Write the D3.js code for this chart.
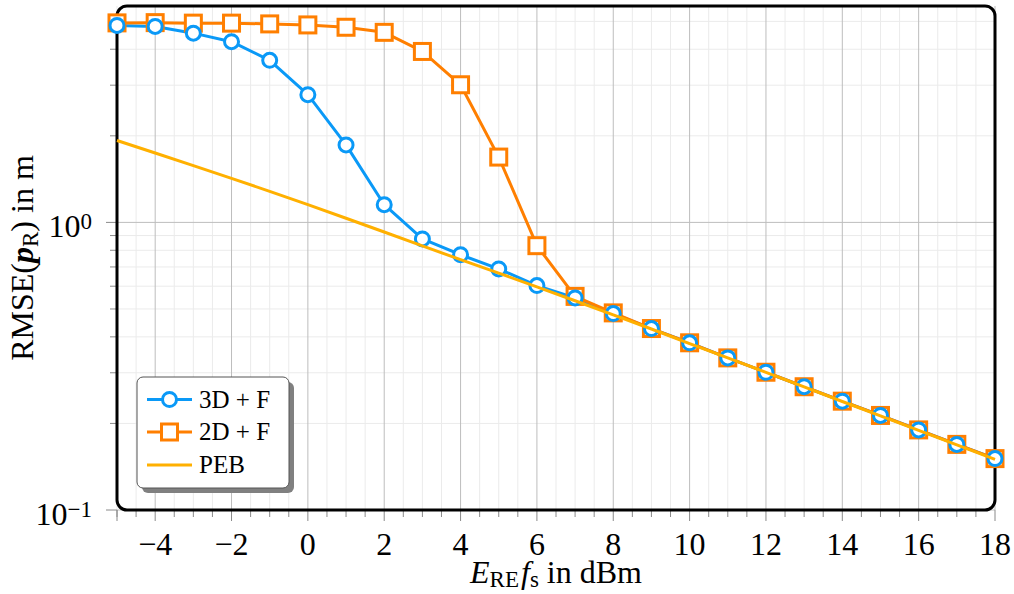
<!DOCTYPE html>
<html><head><meta charset="utf-8">
<script src="https://cdn.jsdelivr.net/npm/d3@7"></script>
<style>
  body { margin: 0; background: #fff; }
  svg text { font-family: "Liberation Serif", "Times New Roman", Times, serif; fill: #000; }
</style>
</head><body>
<svg id="chart" width="1014" height="594" font-family="Liberation Serif"></svg>
<script>
// Transmit energy sweep (dBm)
const energyDbm = [-5,-4,-3,-2,-1,0,1,2,3,4,5,6,7,8,9,10,11,12,13,14,15,16,17,18];
// RMSE of the receiver position (m)
const rmse3DF = [4.84,4.80,4.55,4.25,3.66,2.78,1.86,1.152,0.876,0.772,0.689,0.603,0.546,0.482,0.4275,0.3814,0.338,0.3013,0.2683,0.239,0.2132,0.1899,0.1691,0.1509];
const rmse2DF = [4.94,4.95,4.93,4.93,4.90,4.86,4.77,4.58,3.93,3.01,1.687,0.830,0.553,0.4846,0.4275,0.3814,0.338,0.3013,0.2683,0.239,0.2132,0.1899,0.1691,0.1509];
// Position error bound (m)
const peb = [1.927,1.743,1.576,1.423,1.282,1.153,1.034,0.926,0.829,0.742,0.666,0.597,0.534,0.477,0.426,0.379,0.338,0.301,0.268,0.2384,0.2124,0.1891,0.1684,0.150];

const xMajorTicks = [-4,-2,0,2,4,6,8,10,12,14,16,18];
const yMajorTicks = [0.1, 1];
const yTickExponents = ["\u22121", "0"];
const legendLabels = ["3D + F", "2D + F", "PEB"];

const colors = { d3f: "#0a99f7", d2f: "#ff7f00", peb: "#ffb000" };

const svg = d3.select("#chart");
const plot = { left: 117, right: 995, top: 6, bottom: 510 };

const x = d3.scaleLinear().domain([-5, 18]).range([plot.left, plot.right]);
const y = d3.scaleLog().domain([0.1, 5.655]).range([plot.bottom, plot.top]);

// minor / major positions
const xMinor = d3.range(-5, 18.001, 0.5).filter(v => !xMajorTicks.includes(v));
const yMinor = [0.2,0.3,0.4,0.5,0.6,0.7,0.8,0.9,2,3,4,5];

// grid
const grid = svg.append("g");
grid.selectAll(".gxm").data(xMinor).join("line")
  .attr("x1", d => x(d)).attr("x2", d => x(d))
  .attr("y1", plot.top).attr("y2", plot.bottom)
  .attr("stroke", "#ebebeb").attr("stroke-width", 1);
grid.selectAll(".gym").data(yMinor).join("line")
  .attr("x1", plot.left).attr("x2", plot.right)
  .attr("y1", d => y(d)).attr("y2", d => y(d))
  .attr("stroke", "#ebebeb").attr("stroke-width", 1);
grid.selectAll(".gxM").data(xMajorTicks).join("line")
  .attr("x1", d => x(d)).attr("x2", d => x(d))
  .attr("y1", plot.top).attr("y2", plot.bottom)
  .attr("stroke", "#bdbdbd").attr("stroke-width", 1);
grid.selectAll(".gyM").data(yMajorTicks).join("line")
  .attr("x1", plot.left).attr("x2", plot.right)
  .attr("y1", d => y(d)).attr("y2", d => y(d))
  .attr("stroke", "#bdbdbd").attr("stroke-width", 1);

// outward ticks
const ticks = svg.append("g").attr("stroke", "#8a8a8a").attr("stroke-width", 1);
ticks.selectAll(".txm").data(xMinor).join("line")
  .attr("x1", d => x(d)).attr("x2", d => x(d))
  .attr("y1", plot.bottom).attr("y2", plot.bottom + 7);
ticks.selectAll(".txM").data(xMajorTicks.concat([-5])).join("line")
  .attr("x1", d => x(d)).attr("x2", d => x(d))
  .attr("y1", plot.bottom).attr("y2", plot.bottom + 11);
ticks.selectAll(".tym").data(yMinor).join("line")
  .attr("x1", plot.left - 7).attr("x2", plot.left)
  .attr("y1", d => y(d)).attr("y2", d => y(d));
ticks.selectAll(".tyM").data(yMajorTicks).join("line")
  .attr("x1", plot.left - 11).attr("x2", plot.left)
  .attr("y1", d => y(d)).attr("y2", d => y(d));

// frame
svg.append("rect")
  .attr("x", plot.left).attr("y", plot.top)
  .attr("width", plot.right - plot.left).attr("height", plot.bottom - plot.top)
  .attr("rx", 10).attr("ry", 10)
  .attr("fill", "none").attr("stroke", "#000").attr("stroke-width", 3);

// x tick labels
svg.append("g").selectAll("text").data(xMajorTicks).join("text")
  .attr("x", d => x(d)).attr("y", 555)
  .attr("text-anchor", "middle").attr("font-size", 32)
  .text(d => d < 0 ? "\u2212" + Math.abs(d) : String(d));

// y tick labels (powers of ten)
const yl = svg.append("g").selectAll("text").data(yMajorTicks).join("text")
  .attr("x", 92).attr("y", d => y(d) + 15)
  .attr("text-anchor", "end").attr("font-size", 32);
yl.append("tspan").text("10");
yl.append("tspan").attr("font-size", 23).attr("dy", -8).text((d, i) => yTickExponents[i]);

// axis titles
const xt = svg.append("text").attr("x", 556).attr("y", 583)
  .attr("text-anchor", "middle").attr("font-size", 32);
xt.append("tspan").attr("font-style", "italic").text("E");
xt.append("tspan").attr("font-size", 23).attr("dy", 4).text("RE");
xt.append("tspan").attr("font-style", "italic").attr("dy", -4).attr("dx", 2).text("f");
xt.append("tspan").attr("font-size", 23).attr("dy", 4).text("s");
xt.append("tspan").attr("dy", -4).text(" in dBm");

const ytl = svg.append("text").attr("transform", "translate(33,258) rotate(-90)")
  .attr("text-anchor", "middle").attr("font-size", 32);
ytl.append("tspan").text("RMSE(");
ytl.append("tspan").attr("font-style", "italic").attr("font-weight", "bold").text("p");
ytl.append("tspan").attr("font-size", 23).attr("dy", 5).text("R");
ytl.append("tspan").attr("dy", -5).text(") in m");

// series
const line = d3.line().x(d => x(d[0])).y(d => y(d[1]));
const pts = vals => energyDbm.map((e, i) => [e, vals[i]]);

const data = svg.append("g");
data.append("path").datum(pts(rmse3DF)).attr("d", line)
  .attr("fill", "none").attr("stroke", colors.d3f).attr("stroke-width", 3).attr("stroke-linejoin", "round");
data.append("path").datum(pts(rmse2DF)).attr("d", line)
  .attr("fill", "none").attr("stroke", colors.d2f).attr("stroke-width", 3).attr("stroke-linejoin", "round");

data.selectAll(".sq").data(pts(rmse2DF)).join("rect")
  .attr("x", d => x(d[0]) - 8).attr("y", d => y(d[1]) - 8)
  .attr("width", 16).attr("height", 16)
  .attr("fill", "#fff").attr("stroke", colors.d2f).attr("stroke-width", 3);
data.selectAll(".ci").data(pts(rmse3DF)).join("circle")
  .attr("cx", d => x(d[0])).attr("cy", d => y(d[1])).attr("r", 7)
  .attr("fill", "#fff").attr("stroke", colors.d3f).attr("stroke-width", 3);

data.append("path").datum(pts(peb)).attr("d", line)
  .attr("fill", "none").attr("stroke", colors.peb).attr("stroke-width", 3).attr("stroke-linejoin", "round");

// legend
const lg = svg.append("g");
lg.append("rect").attr("x", 142).attr("y", 382).attr("width", 152).attr("height", 111)
  .attr("rx", 6).attr("fill", "#808080");
lg.append("rect").attr("x", 137).attr("y", 377).attr("width", 152).attr("height", 111)
  .attr("rx", 6).attr("fill", "#fff").attr("stroke", "#555").attr("stroke-width", 1);
const rowY = [399.5, 432, 465];
const legendColors = [colors.d3f, colors.d2f, colors.peb];
legendLabels.forEach((lab, i) => {
  lg.append("line").attr("x1", 147).attr("x2", 192).attr("y1", rowY[i]).attr("y2", rowY[i])
    .attr("stroke", legendColors[i]).attr("stroke-width", 3);
  if (i === 0) lg.append("circle").attr("cx", 169.5).attr("cy", rowY[i]).attr("r", 7)
    .attr("fill", "#fff").attr("stroke", colors.d3f).attr("stroke-width", 3);
  if (i === 1) lg.append("rect").attr("x", 161.5).attr("y", rowY[i] - 8).attr("width", 16).attr("height", 16)
    .attr("fill", "#fff").attr("stroke", colors.d2f).attr("stroke-width", 3);
  lg.append("text").attr("x", 199).attr("y", rowY[i] + 8).attr("font-size", 25).text(lab);
});
</script>
</body></html>
